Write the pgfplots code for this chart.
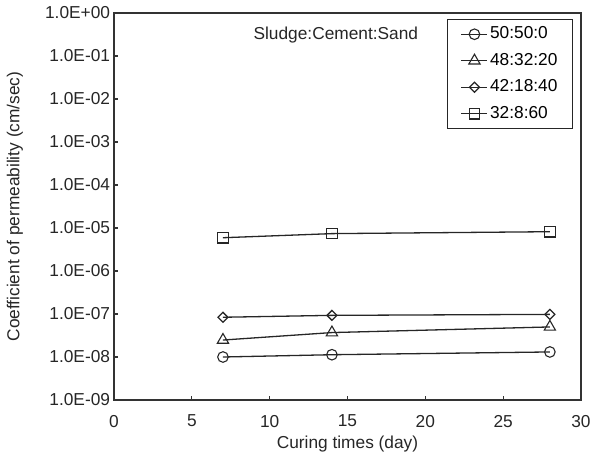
\documentclass[border=0pt]{standalone}
\usepackage{fontspec}
\setmainfont{Liberation Sans}
\usepackage{pgfplots}
\pgfplotsset{compat=1.18}
\newcommand{\fs}{\fontsize{17.3}{20}\selectfont}
\begin{document}
\fs
\begin{tikzpicture}
\begin{axis}[
  at={(114pt,62pt)}, anchor=south west,
  scale only axis, width=467pt, height=387pt,
  xmin=0, xmax=30, ymode=log, ymin=1e-9, ymax=1,
  xtick={0,5,10,15,20,25,30},
  ytick={1e-9,1e-8,1e-7,1e-6,1e-5,1e-4,1e-3,1e-2,1e-1,1},
  yticklabels={1.0E-09,1.0E-08,1.0E-07,1.0E-06,1.0E-05,1.0E-04,1.0E-03,1.0E-02,1.0E-01,1.0E+00},
  minor ytick={}, yminorticks=false,
  tick align=inside, major tick length=4pt,
  xtick pos=bottom, ytick pos=left,
  axis line style={line width=1.4pt, black!80},
  tick style={line width=1.2pt, black!80},
  /pgf/number format/assume math mode=true,
  tick label style={font=\fs, black!85},
  xticklabel style={yshift=-9pt},
  yticklabel style={xshift=2pt},
  xlabel={Curing times (day)},
  ylabel={Coefficient of permeability (cm/sec)},
  xlabel style={at={(axis description cs:0.5,-0.1137)}, anchor=center, font=\fs, black!85},
  ylabel style={at={(axis description cs:-0.212,0.5)}, anchor=center, font=\fs, black!85},
  legend style={at={(rel axis cs:0.983,0.9845)}, anchor=north east,
    draw=black!85, line width=1.2pt, inner xsep=13pt, inner ysep=4pt,
    font=\fs, row sep=5.2pt,
    nodes={inner sep=2pt, text height=0.75em, text depth=0.25em}},
  legend cell align=left,
  legend image code/.code={\draw[mark repeat=2,mark phase=2] plot coordinates {(0pt,0pt) (13pt,0pt) (26pt,0pt)};},
  every axis plot/.append style={line width=1.3pt, black!85, mark options={fill=white, solid, line width=1.1pt}},
]
\addplot[mark=o, mark size=5.3pt] coordinates {(7,1.0e-8) (14,1.13e-8) (28,1.31e-8)};
\addlegendentry{50:50:0}
\addplot[mark=triangle, mark size=6.5pt] coordinates {(7,2.48e-8) (14,3.7e-8) (28,5.0e-8)};
\addlegendentry{48:32:20}
\addplot[mark=square, mark size=3.5pt, mark options={rotate=45, fill=white}] coordinates {(7,8.4e-8) (14,9.3e-8) (28,9.8e-8)};
\addlegendentry{42:18:40}
\addplot[mark=square, mark size=5.3pt] coordinates {(7,5.94e-6) (14,7.4e-6) (28,8.2e-6)};
\addlegendentry{32:8:60}
\node[font=\fs, black!85] at (rel axis cs:0.475,0.943) {Sludge:Cement:Sand};
\end{axis}
\pgfresetboundingbox
\path (0,0) rectangle (600pt,462pt);
\end{tikzpicture}
\end{document}
